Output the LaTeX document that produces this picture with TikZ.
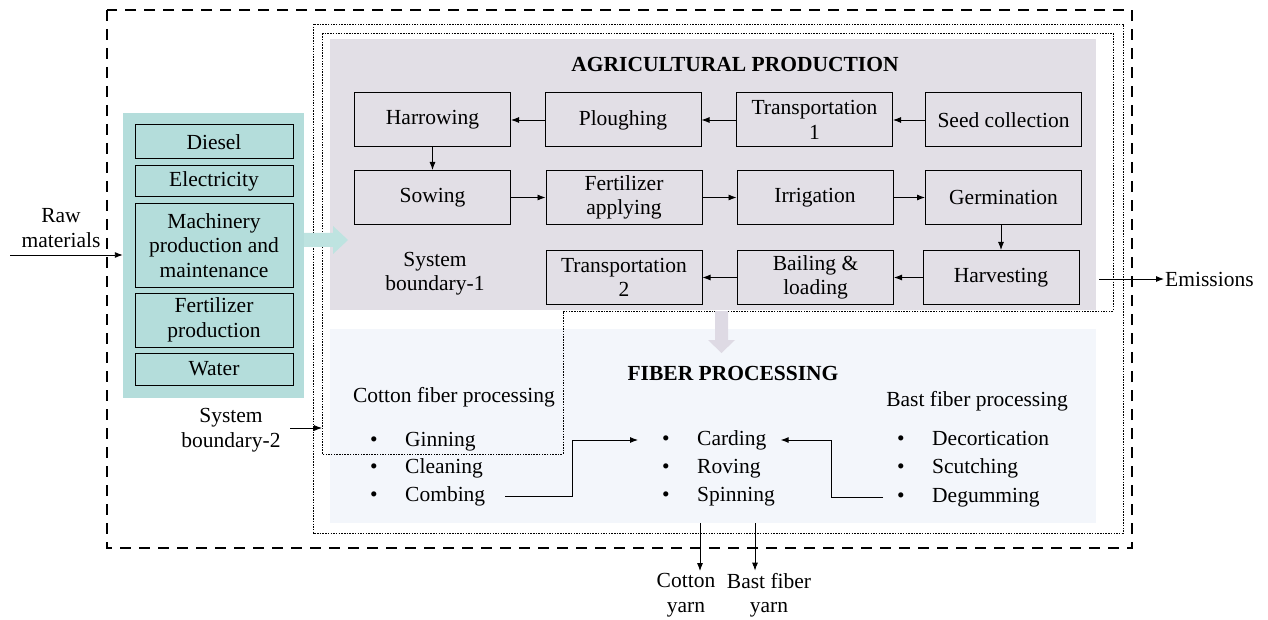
\documentclass[tikz,border=0pt]{standalone}
\usepackage{fontspec}
\setmainfont{Liberation Serif}
\usetikzlibrary{arrows.meta,calc}
\definecolor{agribg}{RGB}{226,223,230}
\definecolor{fiberbg}{RGB}{243,246,251}
\definecolor{inputbg}{RGB}{180,221,219}
\definecolor{tealarrow}{RGB}{190,227,224}
\definecolor{grayarrow}{RGB}{222,218,228}
\newcommand\bulletitem[1]{\makebox[35pt][l]{\textbullet}#1}
\begin{document}
\begin{tikzpicture}[x=1pt,y=-1pt,
  font=\fontsize{21.5}{24.5}\selectfont,
  procbox/.style={draw, line width=1pt, fill=agribg, minimum width=156pt,
    minimum height=54pt, align=center, inner sep=2pt},
  inbox/.style={draw, line width=1pt, fill=inputbg, minimum width=158pt,
    align=center, inner sep=1pt},
  arr/.style={-{Latex[length=8pt,width=6pt]}, line width=0.9pt},
  listitem/.style={anchor=west, inner sep=0pt, text height=15pt, text depth=4pt},
  label/.style={align=center, inner sep=2pt},
  boundary/.style={line width=0.8pt, dash pattern=on 1.5pt off 1.2pt},
  outerbound/.style={line width=2.2pt, dash pattern=on 11pt off 8pt}]
\useasboundingbox (0,0) rectangle (1268,620);

% overall system boundary
\draw[outerbound] (107,10) rectangle (1132,548);
% system boundary-2
\draw[boundary] (313,24) rectangle (1123,533);

% stage backgrounds
\node[fill=agribg, minimum width=766pt, minimum height=271pt, inner sep=0pt] (agri) at (713,174.5) {};
\node[fill=fiberbg, minimum width=766pt, minimum height=194pt, inner sep=0pt] (fiber) at (713,426) {};

% system boundary-1
\draw[boundary] (322,33) -- (1113,33) -- (1113,311) -- (563,311) -- (563,454) -- (322,454) -- cycle;

% inputs
\node[fill=inputbg, minimum width=181pt, minimum height=285pt, inner sep=0pt] (inputs) at (213.5,255.5) {};
\node[inbox, minimum height=34pt] (diesel) at (214,142) {Diesel};
\node[inbox, minimum height=31pt] (elec) at (214,181.5) {Electricity};
\node[inbox, minimum height=83pt] (mach) at (214,245.5) {Machinery\\production and\\maintenance};
\node[inbox, minimum height=54pt] (fertprod) at (214,320) {Fertilizer\\production};
\node[inbox, minimum height=32pt] (water) at (214,369) {Water};

% block arrows between stages
\fill[tealarrow] (304,233) -- (333,233) -- (333,226) -- (348,240) -- (333,254) -- (333,247) -- (304,247) -- cycle;
\fill[grayarrow] (715,311) -- (728,311) -- (728,340) -- (735,340) -- (721.5,353) -- (708,340) -- (715,340) -- cycle;

% agricultural production
\node[font=\fontsize{21.5}{24.5}\selectfont\bfseries] (agrititle) at (735,64) {AGRICULTURAL PRODUCTION};
\node[procbox] (harrow) at (432.5,120) {Harrowing};
\node[procbox] (plough) at (623,120) {Ploughing};
\node[procbox] (trans1) at (814.5,120) {Transportation\\1};
\node[procbox] (seed) at (1003.5,120) {Seed collection};
\node[procbox] (sow) at (432.5,197.5) {Sowing};
\node[procbox] (fertapp) at (624,197.5) {Fertilizer\\applying};
\node[procbox] (irrig) at (815,197.5) {Irrigation};
\node[procbox] (germ) at (1003.5,197.5) {Germination};
\node[procbox] (trans2) at (624,277.5) {Transportation\\2};
\node[procbox] (bail) at (815.5,277.5) {Bailing \&\\loading};
\node[procbox] (harvest) at (1001,277.5) {Harvesting};
\node[label] (sb1) at (435,273.5) {System\\boundary-1};

\draw[arr] (seed) -- (trans1);
\draw[arr] (trans1) -- (plough);
\draw[arr] (plough) -- (harrow);
\draw[arr] (harrow) -- (sow);
\draw[arr] (sow) -- (fertapp);
\draw[arr] (fertapp) -- (irrig);
\draw[arr] (irrig) -- (germ);
\draw[arr] (germ.south -| harvest.north) -- (harvest.north);
\draw[arr] (harvest) -- (bail);
\draw[arr] (bail) -- (trans2);

% fiber processing
\node[font=\fontsize{21.5}{24.5}\selectfont\bfseries] (fibertitle) at (733,373) {FIBER PROCESSING};
\node (cottonhead) at (454,397) {Cotton fiber processing};
\node (basthead) at (977,401) {Bast fiber processing};

\node[listitem] (ginning) at (370,441) {\bulletitem{Ginning}};
\node[listitem] (cleaning) at (370,468) {\bulletitem{Cleaning}};
\node[listitem] (combing) at (370,496) {\bulletitem{Combing}};
\node[listitem] (carding) at (662,440) {\bulletitem{Carding}};
\node[listitem] (roving) at (662,468) {\bulletitem{Roving}};
\node[listitem] (spinning) at (662,496) {\bulletitem{Spinning}};
\node[listitem] (decort) at (897,440) {\bulletitem{Decortication}};
\node[listitem] (scutch) at (897,468) {\bulletitem{Scutching}};
\node[listitem] (degum) at (897,497) {\bulletitem{Degumming}};

\draw[arr] ([xshift=20pt]combing.east) -- ++(67,0) |- ([xshift=-24pt]carding.west);
\draw[arr] ([xshift=-14pt]degum.west) -- ++(-52,0) |- ([xshift=14pt]carding.east);

% inputs and outputs
\node[label] (raw) at (61,228) {Raw\\materials};
\coordinate (rawstart) at (10,255);
\draw[arr] (rawstart) -- (rawstart -| inputs.west);

\node[label] (sb2) at (231,430) {System\\boundary-2};
\coordinate (sb2start) at (290,428);
\coordinate (sb2end) at (322,428);
\draw[arr] (sb2start) -- (sb2end);

\node[anchor=west, inner sep=1pt] (emis) at (1164,279) {Emissions};
\coordinate (emstart) at (1099,279);
\draw[arr] (emstart) -- (emis.west);

\node[label] (cottonyarn) at (686,595) {Cotton\\yarn};
\node[label] (bastyarn) at (769,595) {Bast fiber\\yarn};
\coordinate (cyA) at (700,523);
\coordinate (byA) at (755,523);
\draw[arr] (cyA) -- (cyA |- cottonyarn.north);
\draw[arr] (byA) -- (byA |- bastyarn.north);
\end{tikzpicture}
\end{document}
